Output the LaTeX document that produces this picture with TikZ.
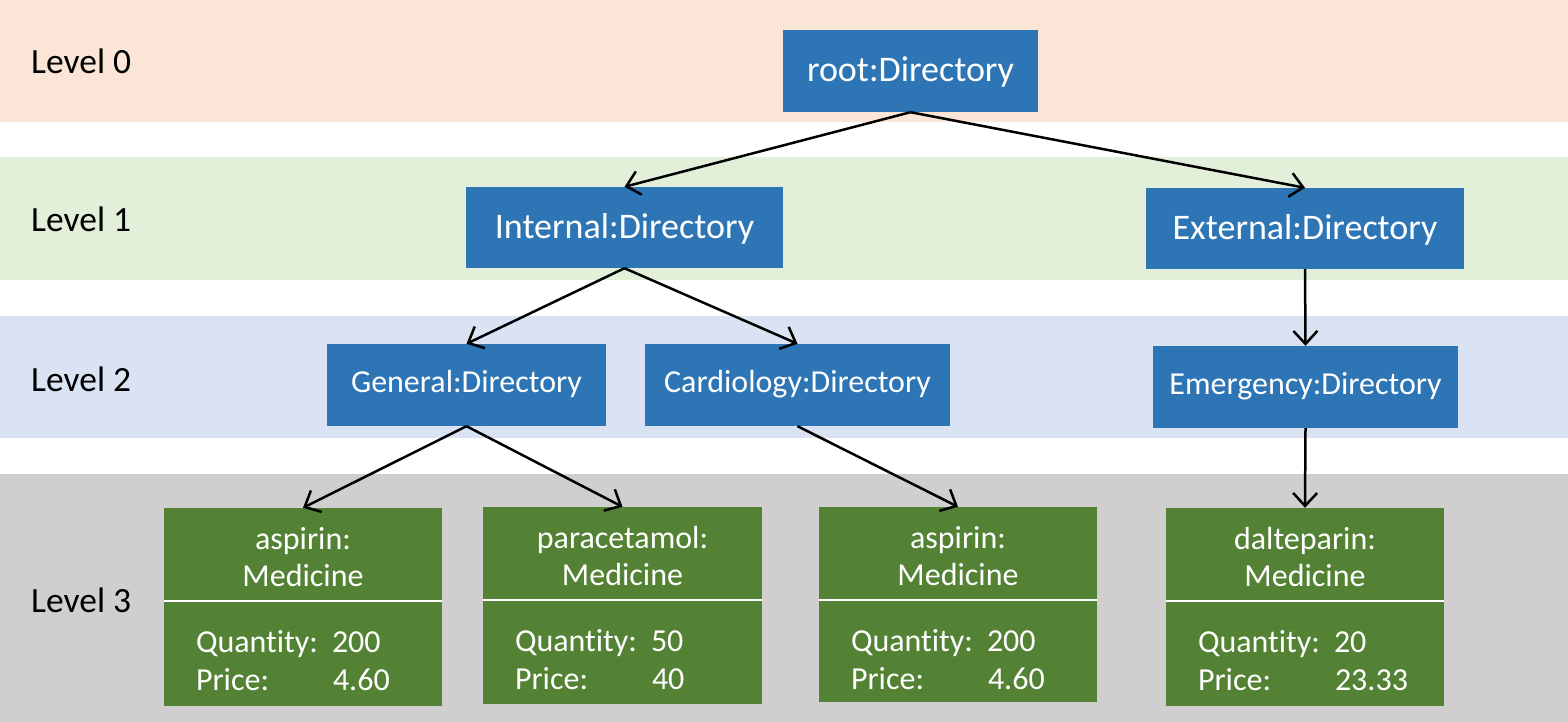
\documentclass[tikz,border=0pt]{standalone}
\usepackage{fontspec}
\setmainfont{Carlito}[Ligatures={NoCommon}]
\usetikzlibrary{arrows.meta}
\definecolor{bandA}{HTML}{FBE5D6}
\definecolor{bandB}{HTML}{E2F0D9}
\definecolor{bandC}{HTML}{DAE3F3}
\definecolor{bandD}{HTML}{D0CECE}
\definecolor{dirblue}{HTML}{2E75B6}
\definecolor{medgreen}{HTML}{548235}
\begin{document}
\begin{tikzpicture}[x=1pt,y=-1pt,
  dirbox/.style={fill=dirblue, text=white, inner sep=0pt, text height=27pt, text depth=5pt, font=\fontsize{36}{42}\selectfont},
  dirsmall/.style={dirbox, text height=21pt, text depth=7pt, font=\fontsize{32}{38}\selectfont},
  medbox/.style={fill=medgreen, inner sep=0pt, minimum width=278pt},
  medtxt/.style={text=white, inner sep=0pt, anchor=base, font=\fontsize{32}{38}\selectfont},
  medlbl/.style={medtxt, anchor=base west},
  lvl/.style={inner sep=0pt, anchor=base west, font=\fontsize{35.5}{42}\selectfont},
  conn/.style={line width=2.5pt, -{Straight Barb[length=13pt,width=24pt,line width=2.5pt]}},
  sep/.style={white, line width=2pt}]
\useasboundingbox (0,0) rectangle (1568,722);
% bands
\fill[bandA] (0,0) rectangle (1568,122);
\fill[bandB] (0,157) rectangle (1568,280);
\fill[bandC] (0,316) rectangle (1568,438);
\fill[bandD] (0,474) rectangle (1568,722);
% level labels
\node[lvl] (l0) at (31,74) {Level 0};
\node[lvl] (l1) at (31,231) {Level 1};
\node[lvl] (l2) at (31,391) {Level 2};
\node[lvl] (l3) at (31,612) {Level 3};
% directories
\node[dirbox, minimum width=255pt, minimum height=82pt] (root) at (910.5,71) {root:Directory};
\node[dirbox, minimum width=317pt, minimum height=81pt] (int) at (624.5,227.5) {Internal:Directory};
\node[dirbox, minimum width=318pt, minimum height=81pt] (ext) at (1305,228.5) {External:Directory};
\node[dirsmall, minimum width=279pt, minimum height=82pt] (gen) at (466.5,385) {General:Directory};
\node[dirsmall, minimum width=305pt, minimum height=82pt] (card) at (797.5,385) {Cardiology:Directory};
\node[dirsmall, minimum width=305pt, minimum height=82pt] (emer) at (1305.5,387) {Emergency:Directory};
% medicines
\node[medbox, minimum height=198pt] (m1) at (303,607) {};
\node[medbox, minimum width=279pt, minimum height=197pt] (m2) at (622.5,605.5) {};
\node[medbox, minimum height=195pt] (m3) at (958,604.5) {};
\node[medbox, minimum height=198pt] (m4) at (1305,607) {};
\foreach \m/\a/\b/\q/\p in {m1/aspirin:/Medicine/200/4.60, m2/paracetamol:/Medicine/50/40, m3/aspirin:/Medicine/200/4.60, m4/dalteparin:/Medicine/20/23.33}{
  \draw[sep] ([yshift=-93pt]\m.north west) -- ([yshift=-93pt]\m.north east);
  \node[medtxt] (\m t1) at ([yshift=-42pt]\m.north) {\a};
  \node[medtxt] (\m t2) at ([yshift=-79pt]\m.north) {\b};
  \node[medlbl] (\m ql) at ([xshift=32pt,yshift=-145pt]\m.north west) {Quantity:};
  \node[medlbl] (\m qv) at ([xshift=168pt,yshift=-145pt]\m.north west) {\q};
  \node[medlbl] (\m pl) at ([xshift=32pt,yshift=-183pt]\m.north west) {Price:};
  \node[medlbl] (\m pv) at ([xshift=169pt,yshift=-183pt]\m.north west) {\p};
}
% connectors
\draw[conn] (root.south) -- (int.north);
\draw[conn] (root.south) -- (ext.north);
\draw[conn] (int.south) -- (gen.north);
\draw[conn] (int.south) -- (card.north);
\draw[conn] (ext.south) -- (emer.north);
\draw[conn] (gen.south) -- (m1.north);
\draw[conn] (gen.south) -- (m2.north);
\draw[conn] (card.south) -- (m3.north);
\draw[conn] (emer.south) -- (m4.north);
\end{tikzpicture}
\end{document}
